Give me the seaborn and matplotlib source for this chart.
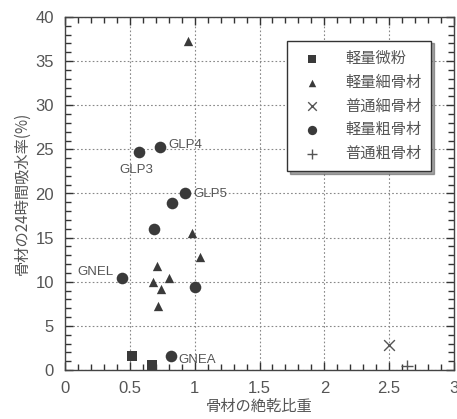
import matplotlib
matplotlib.use("Agg")
import matplotlib.pyplot as plt
import seaborn as sns
import pandas as pd
from matplotlib.ticker import MultipleLocator, FixedLocator

sns.set_theme(style="ticks")
plt.rcParams['font.family'] = ['Liberation Sans', 'Noto Sans CJK JP', 'DejaVu Sans']

categories = ["軽量微粉", "軽量細骨材", "普通細骨材", "軽量粗骨材", "普通粗骨材"]

fine_powder_x = [0.52, 0.67]
fine_powder_y = [1.6, 0.55]

lw_fine_x = [0.95, 0.98, 1.04, 0.71, 0.68, 0.80, 0.74, 0.72]
lw_fine_y = [37.3, 15.5, 12.8, 11.8, 10.0, 10.4, 9.2, 7.2]

nw_fine_x = [2.50]
nw_fine_y = [2.8]

lw_coarse_x = [0.82, 0.44, 1.00, 0.69, 0.57, 0.73, 0.925, 0.825]
lw_coarse_y = [1.56, 10.45, 9.4, 16.0, 24.7, 25.3, 20.0, 18.9]
lw_coarse_names = ["GNEA", "GNEL", "", "", "GLP3", "GLP4", "GLP5", ""]

nw_coarse_x = [2.64]
nw_coarse_y = [0.5]

rows = []
for cat, xs, ys in [
    (categories[0], fine_powder_x, fine_powder_y),
    (categories[1], lw_fine_x, lw_fine_y),
    (categories[2], nw_fine_x, nw_fine_y),
    (categories[3], lw_coarse_x, lw_coarse_y),
    (categories[4], nw_coarse_x, nw_coarse_y),
]:
    for x, y in zip(xs, ys):
        rows.append({"x": x, "y": y, "cat": cat})
df = pd.DataFrame(rows)

fig = plt.figure(figsize=(4.57, 4.19), dpi=100)
ax = fig.add_axes([65/457, 49/419, 389/457, 353/419])

dark = "#3a3a3a"
sizes = {categories[0]: 55, categories[1]: 45, categories[2]: 60, categories[3]: 70, categories[4]: 70}

for cat, m in zip(categories, ["s", "^", "x", "o", "+"]):
    sub = df[df["cat"] == cat]
    if m in ("x", "+"):
        sns.scatterplot(data=sub, x="x", y="y", marker=m, color="#555555", s=sizes[cat],
                        linewidth=1.0, ax=ax, label=cat)
    else:
        sns.scatterplot(data=sub, x="x", y="y", marker=m, color=dark, s=sizes[cat],
                        edgecolor=dark, linewidth=0, ax=ax, label=cat, zorder=3)

tc = "#555555"
offsets = {"GNEA": (5, -3, "left"), "GNEL": (-6, 4, "right"), "GLP3": (-2, -13, "center"),
           "GLP4": (6, 1, "left"), "GLP5": (6, 0, "left")}
for x, y, n in zip(lw_coarse_x, lw_coarse_y, lw_coarse_names):
    if n:
        dx, dy, ha = offsets[n]
        ax.annotate(n, (x, y), xytext=(dx, dy), textcoords="offset points",
                    ha=ha, va="center", fontsize=9.5, color=tc)

ax.set_xlim(0, 3)
ax.set_ylim(0, 40)
ax.xaxis.set_major_locator(FixedLocator([0, 0.5, 1, 1.5, 2, 2.5, 3]))
ax.set_xticklabels(["0", "0.5", "1", "1.5", "2", "2.5", "3"])
ax.xaxis.set_minor_locator(MultipleLocator(0.1))
ax.yaxis.set_major_locator(MultipleLocator(5))
ax.yaxis.set_minor_locator(MultipleLocator(1))
ax.tick_params(which="both", direction="in", top=True, right=True, color="#333333")
ax.tick_params(which="major", length=6, width=1.0, labelsize=12, labelcolor=tc, pad=8)
ax.tick_params(which="minor", length=4, width=1.0)
ax.grid(True, which="major", linestyle=(0, (1.5, 2)), color="#888888", linewidth=0.8)
for s in ax.spines.values():
    s.set_color("#444444")
    s.set_linewidth(1.0)

ax.set_xlabel("骨材の絶乾比重", fontsize=11, color=tc, family=["Noto Sans CJK JP"], labelpad=1)
ax.set_ylabel("骨材の24時間吸水率(%)", fontsize=11, color=tc, family=["Noto Sans CJK JP", "DejaVu Sans"], labelpad=3)

leg = ax.legend(loc="upper right", bbox_to_anchor=(0.96, 0.955), frameon=True, shadow=True,
                fancybox=False, edgecolor="#333333", framealpha=1, fontsize=11,
                handletextpad=1.2, borderpad=0.6, labelspacing=0.45, markerscale=0.8)
for t in leg.get_texts():
    t.set_color(tc)
    t.set_family(["Noto Sans CJK JP"])

fig.savefig("out.png", dpi=100)
